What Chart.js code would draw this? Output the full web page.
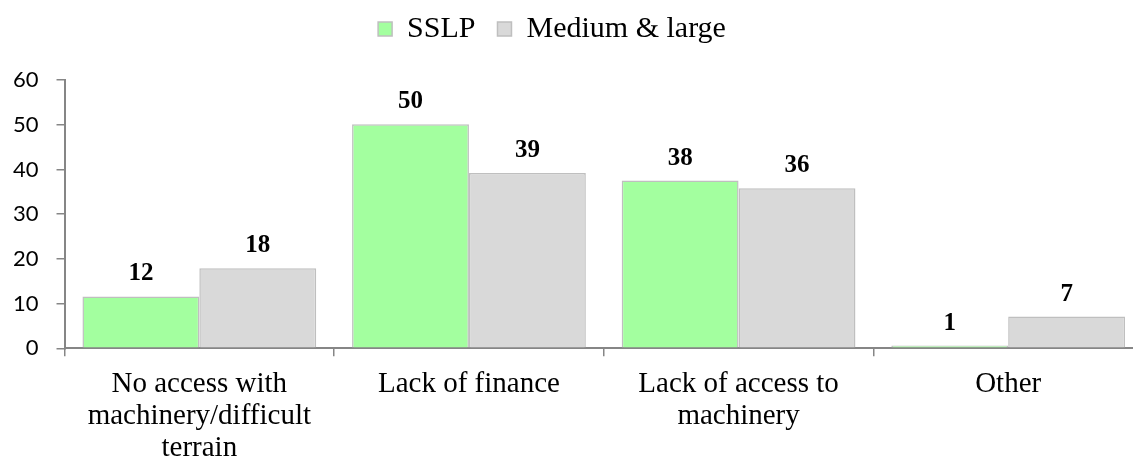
<!DOCTYPE html>
<html lang="en">
<head>
    <meta charset="UTF-8">
    <title>Barriers chart</title>
    <script src="https://cdn.jsdelivr.net/npm/chart.js"></script>
    <style>
        * { margin: 0; padding: 0; box-sizing: border-box; }
        body { background: #fff; width: 1133px; height: 462px; overflow: hidden; }
        /* the original picture is cropped on the right, so the canvas runs a bit past the window */
        .chart-box { position: relative; width: 1146px; height: 462px; }
    </style>
</head>
<body>
    <div class="chart-box">
        <canvas id="barChart"></canvas>
    </div>

    <script>
        // Data
        const categories = [
            ['No access with', 'machinery/difficult', 'terrain'],
            ['Lack of finance'],
            ['Lack of access to', 'machinery'],
            ['Other']
        ];
        const sslpValues = [11.6, 50.1, 37.5, 0.6];
        const mediumLargeValues = [17.9, 39.2, 35.8, 7.1];
        const sslpLabels = ['12', '50', '38', '1'];
        const mediumLargeLabels = ['18', '39', '36', '7'];
        const yTicks = [0, 10, 20, 30, 40, 50, 60];

        const serif = "'Liberation Serif', 'Times New Roman', serif";
        const sans = "Lato, 'Open Sans', sans-serif";

        // bold numbers above each bar
        const valueLabels = {
            id: 'valueLabels',
            afterDatasetsDraw(chart) {
                const ctx = chart.ctx;
                const texts = [sslpLabels, mediumLargeLabels];
                ctx.save();
                ctx.font = 'bold 25px ' + serif;
                ctx.fillStyle = '#000';
                ctx.textAlign = 'center';
                ctx.textBaseline = 'alphabetic';
                chart.data.datasets.forEach((ds, i) => {
                    chart.getDatasetMeta(i).data.forEach((bar, j) => {
                        ctx.fillText(texts[i][j], bar.x, bar.y - 16);
                    });
                });
                ctx.restore();
            }
        };

        // extra room under the legend, and nudge it a little to the left
        const legendGap = {
            id: 'legendGap',
            beforeInit(chart) {
                const origFit = chart.legend.fit;
                chart.legend.fit = function () {
                    origFit.bind(chart.legend)();
                    this.height += 26;
                    if (this.lineWidths) this.lineWidths[0] += 34;
                };
            }
        };

        const ctx = document.getElementById('barChart').getContext('2d');
        new Chart(ctx, {
            type: 'bar',
            data: {
                labels: categories,
                datasets: [{
                    label: 'SSLP',
                    data: sslpValues,
                    backgroundColor: '#a3ff9f',
                    borderColor: '#bfbfbf',
                    borderWidth: 1.5
                }, {
                    label: 'Medium & large',
                    data: mediumLargeValues,
                    backgroundColor: '#d9d9d9',
                    borderColor: '#bfbfbf',
                    borderWidth: 1.5
                }]
            },
            options: {
                responsive: true,
                maintainAspectRatio: false,
                animation: false,
                layout: { padding: { left: -5, right: 3, top: -8, bottom: -14 } },
                datasets: {
                    bar: { categoryPercentage: 0.867, barPercentage: 1.0 }
                },
                plugins: {
                    legend: {
                        position: 'top',
                        labels: {
                            color: '#000',
                            font: { family: serif, size: 30 },
                            boxWidth: 14,
                            boxHeight: 14,
                            padding: 22
                        }
                    },
                    tooltip: { enabled: false }
                },
                scales: {
                    x: {
                        grid: {
                            display: true,
                            drawOnChartArea: false,
                            drawTicks: true,
                            tickLength: 8,
                            color: '#868686',
                            lineWidth: 1.5,
                            offset: true
                        },
                        border: { color: '#868686', width: 2 },
                        ticks: {
                            color: '#000',
                            font: { family: serif, size: 29, lineHeight: 1.1 },
                            padding: 12,
                            maxRotation: 0,
                            autoSkip: false
                        }
                    },
                    y: {
                        min: 0,
                        max: 60,
                        afterBuildTicks: (axis) => { axis.ticks = yTicks.map(v => ({ value: v })); },
                        grid: {
                            display: true,
                            drawOnChartArea: false,
                            drawTicks: true,
                            tickLength: 8,
                            color: '#868686',
                            lineWidth: 1.5
                        },
                        border: { color: '#868686', width: 2 },
                        ticks: {
                            color: '#000',
                            font: { family: sans, size: 22 },
                            padding: 18
                        }
                    }
                }
            },
            plugins: [valueLabels, legendGap]
        });
    </script>
</body>
</html>
